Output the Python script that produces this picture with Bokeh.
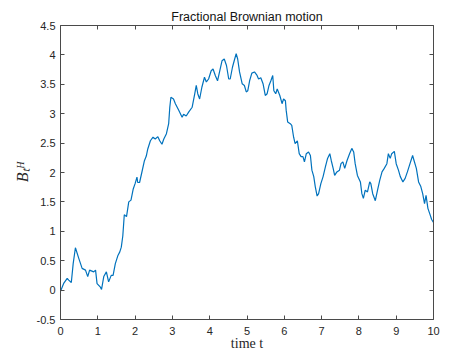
from bokeh.plotting import figure
from bokeh.models import Range1d, FixedTicker, LinearAxis
from bokeh.embed import file_html
from bokeh.resources import INLINE

# ---- data ----
t_values = [0, 0.09, 0.18, 0.22, 0.29, 0.34, 0.40, 0.49, 0.58, 0.67, 0.73, 0.78, 0.89, 0.94,
            0.98, 1.07, 1.10, 1.16, 1.23, 1.29, 1.36, 1.41, 1.47, 1.54, 1.59, 1.63, 1.67, 1.69,
            1.71, 1.77, 1.83, 1.89, 1.95, 2.0, 2.05, 2.07, 2.12, 2.18, 2.25, 2.3, 2.34, 2.41,
            2.48, 2.54, 2.61, 2.66, 2.72, 2.77, 2.84, 2.9, 2.93, 2.96, 3.03, 3.08, 3.17, 3.26,
            3.3, 3.37, 3.44, 3.53, 3.6, 3.64, 3.68, 3.73, 3.79, 3.86, 3.91, 3.97, 4.04, 4.09,
            4.15, 4.21, 4.27, 4.33, 4.39, 4.45, 4.51, 4.55, 4.61, 4.67, 4.71, 4.75, 4.8, 4.87,
            4.93, 4.98, 5.02, 5.07, 5.13, 5.2, 5.27, 5.31, 5.37, 5.43, 5.49, 5.54, 5.59, 5.64,
            5.69, 5.72, 5.77, 5.81, 5.88, 5.94, 5.98, 6.03, 6.05, 6.09, 6.16, 6.2, 6.25, 6.29,
            6.35, 6.4, 6.45, 6.5, 6.54, 6.59, 6.65, 6.7, 6.74, 6.79, 6.83, 6.88, 6.92, 6.98,
            7.04, 7.1, 7.16, 7.22, 7.26, 7.31, 7.35, 7.41, 7.48, 7.52, 7.57, 7.62, 7.68, 7.75,
            7.81, 7.86, 7.9, 7.96, 8.04, 8.08, 8.12, 8.17, 8.23, 8.29, 8.32, 8.37, 8.44, 8.5,
            8.56, 8.62, 8.68, 8.75, 8.79, 8.84, 8.88, 8.95, 9.0, 9.06, 9.11, 9.18, 9.24, 9.3,
            9.37, 9.44, 9.48, 9.54, 9.6, 9.66, 9.71, 9.76, 9.8, 9.85, 9.91, 9.95, 10.0]
b_values = [-0.02, 0.12, 0.2, 0.17, 0.13, 0.45, 0.72, 0.54, 0.37, 0.34, 0.23, 0.34, 0.31, 0.34,
            0.11, 0.05, 0.01, 0.23, 0.31, 0.14, 0.25, 0.25, 0.45, 0.59, 0.65, 0.73, 0.92, 1.1,
            1.28, 1.25, 1.5, 1.53, 1.72, 1.81, 1.92, 1.83, 1.83, 2.0, 2.2, 2.28, 2.4, 2.54,
            2.6, 2.57, 2.61, 2.54, 2.48, 2.57, 2.66, 2.83, 3.11, 3.28, 3.25, 3.17, 3.06, 2.94,
            2.99, 2.96, 3.03, 3.11, 3.34, 3.48, 3.34, 3.25, 3.45, 3.62, 3.54, 3.59, 3.73, 3.76,
            3.65, 3.56, 3.73, 3.9, 3.93, 3.82, 3.59, 3.59, 3.79, 3.93, 4.02, 3.93, 3.71, 3.51,
            3.48, 3.37, 3.39, 3.56, 3.69, 3.71, 3.65, 3.59, 3.61, 3.51, 3.31, 3.34, 3.48, 3.56,
            3.65, 3.39, 3.34, 3.42, 3.31, 3.17, 3.25, 3.22, 3.06, 2.86, 2.83, 2.8, 2.6, 2.49,
            2.54, 2.32, 2.27, 2.27, 2.18, 2.32, 2.35, 2.29, 2.04, 1.93, 1.76, 1.6, 1.64, 1.81,
            1.93, 2.09, 2.24, 2.32, 2.2, 2.07, 1.95, 2.01, 2.04, 2.15, 2.18, 2.07, 2.2, 2.32,
            2.41, 2.35, 2.15, 1.95, 1.84, 1.64, 1.56, 1.7, 1.67, 1.84, 1.81, 1.64, 1.52, 1.7,
            1.87, 2.01, 2.07, 2.15, 2.32, 2.24, 2.32, 2.36, 2.15, 2.04, 1.93, 1.84, 1.9, 2.01,
            2.15, 2.29, 2.2, 2.07, 1.84, 1.76, 1.64, 1.47, 1.61, 1.39, 1.28, 1.2, 1.15]

x_ticks = [0, 1, 2, 3, 4, 5, 6, 7, 8, 9, 10]
x_tick_labels = ["0", "1", "2", "3", "4", "5", "6", "7", "8", "9", "10"]
y_ticks = [-0.5, 0, 0.5, 1, 1.5, 2, 2.5, 3, 3.5, 4, 4.5]
y_tick_labels = ["-0.5", "0", "0.5", "1", "1.5", "2", "2.5", "3", "3.5", "4", "4.5"]

title_text = "Fractional Brownian motion"
xlabel_text = "time t"
ylabel_text = "B\u209c\u1d34"

AX = "#4a4a4a"
TXT = "#262626"

p = figure(width=455, height=363, output_backend="svg", toolbar_location=None,
           x_range=Range1d(0, 10), y_range=Range1d(-0.5, 4.5),
           min_border_left=60, min_border_right=22, min_border_top=25, min_border_bottom=44,
           background_fill_color="white", border_fill_color="white")
p.xgrid.visible = False
p.ygrid.visible = False
p.outline_line_color = None

p.title.text = title_text
p.title.align = "center"
p.title.text_font = "Liberation Sans"
p.title.text_font_size = "12.5px"
p.title.text_font_style = "normal"
p.title.text_color = "#141414"
p.title.standoff = 3

for ax, ticks, labels in ((p.xaxis[0], x_ticks, x_tick_labels), (p.yaxis[0], y_ticks, y_tick_labels)):
    ax.ticker = FixedTicker(ticks=ticks)
    ax.major_label_overrides = {v: s for v, s in zip(ticks, labels)}
    ax.minor_tick_line_color = None
    ax.major_tick_in = 4
    ax.major_tick_out = 0
    ax.axis_line_color = AX
    ax.major_tick_line_color = AX
    ax.major_label_text_font = "Liberation Sans"
    ax.major_label_text_font_size = "11px"
    ax.major_label_text_color = TXT
    ax.axis_label_text_font = "Liberation Serif"
    ax.axis_label_text_color = TXT

p.xaxis[0].major_label_standoff = 7
p.yaxis[0].major_label_standoff = 5
p.xaxis[0].axis_label = xlabel_text
p.xaxis[0].axis_label_text_font_size = "14px"
p.xaxis[0].axis_label_text_font_style = "normal"
p.xaxis[0].axis_label_standoff = -2
p.yaxis[0].axis_label = ylabel_text
p.yaxis[0].axis_label_text_font_size = "16px"
p.yaxis[0].axis_label_text_font_style = "italic"
p.yaxis[0].axis_label_standoff = 3

for side, ticks in (("right", y_ticks), ("above", x_ticks)):
    ax = LinearAxis(ticker=FixedTicker(ticks=ticks), major_tick_in=4, major_tick_out=0,
                    minor_tick_line_color=None, axis_line_color=AX, major_tick_line_color=AX,
                    major_label_overrides={v: "" for v in ticks},
                    major_label_text_font_size="1px", major_label_standoff=0)
    p.add_layout(ax, side)

p.line(t_values, b_values, line_color="#0072BD", line_width=1.2)

open("out.html", "w").write(file_html(p, INLINE))
